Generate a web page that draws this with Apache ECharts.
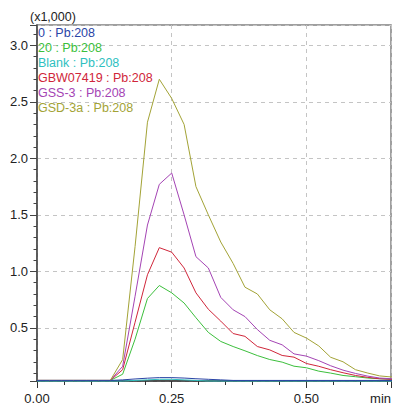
<!DOCTYPE html>
<html>
<head>
<meta charset="utf-8">
<script src="https://cdn.jsdelivr.net/npm/echarts@6/dist/echarts.min.js"></script>
<style>
  html, body { margin: 0; padding: 0; background: #fff; }
  #chart { width: 394px; height: 405px; }
</style>
</head>
<body>
<div id="chart"></div>
<script>
// retention time (min)
const times = [0.000, 0.023, 0.045, 0.068, 0.091, 0.114, 0.136, 0.159, 0.182, 0.205,
  0.227, 0.250, 0.273, 0.295, 0.318, 0.341, 0.364, 0.386, 0.409, 0.432,
  0.455, 0.477, 0.500, 0.523, 0.545, 0.568, 0.591, 0.614, 0.636, 0.659];

// intensity (x1,000)
const s0 = [0.035, 0.035, 0.035, 0.035, 0.035, 0.035, 0.035, 0.04, 0.048, 0.055,
  0.06, 0.06, 0.056, 0.05, 0.045, 0.04, 0.035, 0.035, 0.035, 0.035,
  0.035, 0.035, 0.035, 0.035, 0.035, 0.035, 0.035, 0.035, 0.035, 0.035];
const s20 = [0.035, 0.035, 0.035, 0.035, 0.035, 0.035, 0.035, 0.09, 0.40, 0.76,
  0.875, 0.81, 0.72, 0.59, 0.46, 0.38, 0.335, 0.297, 0.255, 0.22,
  0.197, 0.161, 0.147, 0.117, 0.10, 0.079, 0.068, 0.056, 0.05, 0.045];
const sBlank = [0.03, 0.03, 0.03, 0.03, 0.03, 0.03, 0.03, 0.03, 0.035, 0.04,
  0.045, 0.045, 0.04, 0.035, 0.03, 0.03, 0.03, 0.03, 0.03, 0.03,
  0.03, 0.03, 0.03, 0.03, 0.03, 0.03, 0.03, 0.03, 0.03, 0.03];
const sGBW = [0.035, 0.035, 0.035, 0.035, 0.035, 0.035, 0.035, 0.13, 0.55, 0.97,
  1.21, 1.17, 1.03, 0.81, 0.665, 0.56, 0.45, 0.425, 0.335, 0.305,
  0.256, 0.241, 0.185, 0.16, 0.13, 0.103, 0.079, 0.062, 0.05, 0.045];
const sGSS = [0.035, 0.035, 0.035, 0.035, 0.035, 0.035, 0.035, 0.16, 0.78, 1.41,
  1.77, 1.87, 1.50, 1.13, 1.03, 0.77, 0.66, 0.60, 0.485, 0.39,
  0.35, 0.27, 0.25, 0.21, 0.165, 0.126, 0.097, 0.073, 0.056, 0.05];
const sGSD = [0.035, 0.035, 0.035, 0.035, 0.035, 0.035, 0.035, 0.22, 1.22, 2.32,
  2.70, 2.53, 2.30, 1.75, 1.50, 1.26, 1.07, 0.86, 0.80, 0.66,
  0.58, 0.46, 0.41, 0.34, 0.24, 0.20, 0.13, 0.10, 0.075, 0.065];

const names = ["0 : Pb:208", "20 : Pb:208", "Blank : Pb:208", "GBW07419 : Pb:208", "GSS-3 : Pb:208", "GSD-3a : Pb:208"];
const values = [s0, s20, sBlank, sGBW, sGSS, sGSD];
const colors = ["#2a44a6", "#3cbf3c", "#2fbfbf", "#d0263a", "#a444b4", "#a3a336"];

const font = "'Liberation Sans', Arial, sans-serif";

const chart = echarts.init(document.getElementById("chart"), null, { renderer: "svg" });
chart.setOption({
  animation: false,
  textStyle: { fontFamily: font },
  grid: {
    left: 37, right: 1, top: 25, bottom: 24,
    show: true, borderColor: "#808080", borderWidth: 1.5,
  },
  graphic: [{
    type: "text", left: 30, top: 10,
    style: { text: "(x1,000)", fontSize: 12.5, fontFamily: font, fill: "#222" },
  }],
  legend: {
    orient: "vertical",
    left: 33, top: 25, padding: 0,
    itemWidth: 0, itemHeight: 0, itemGap: 0,
    icon: "rect",
    selectedMode: false,
    data: names.map((n, i) => ({ name: n, textStyle: { color: colors[i], fontSize: 12.5, lineHeight: 15, fontFamily: font } })),
  },
  xAxis: {
    type: "value",
    min: 0, max: 0.657, interval: 0.25,
    axisLine: { onZero: false, lineStyle: { color: "#333", width: 1.5 } },
    axisTick: { length: 7, lineStyle: { color: "#333" } },
    minorTick: { show: true, splitNumber: 5, length: 4, lineStyle: { color: "#333" } },
    axisLabel: {
      color: "#222", fontSize: 13, margin: 11,
      showMaxLabel: true, alignMaxLabel: "right",
      formatter: (v) => (v > 0.6 ? "min" : v.toFixed(2)),
    },
    splitLine: { show: true, lineStyle: { color: "#c4c4c4", type: [4, 4] } },
  },
  yAxis: {
    type: "value",
    min: 0.03, max: 3.18, splitNumber: 6,
    axisLine: { show: true, lineStyle: { color: "#444", width: 1.5 } },
    axisTick: { length: 7, lineStyle: { color: "#444" } },
    minorTick: { show: true, splitNumber: 5, length: 3.5, lineStyle: { color: "#444" } },
    axisLabel: {
      color: "#222", fontSize: 13, margin: 9,
      showMinLabel: false, showMaxLabel: false,
      formatter: (v) => v.toFixed(1),
    },
    splitLine: { show: true, lineStyle: { color: "#c4c4c4", type: [4, 4] } },
  },
  series: names.map((n, i) => ({
    name: n,
    type: "line",
    data: times.map((t, j) => [t, values[i][j]]),
    symbol: "none",
    clip: false,
    z: i === 0 ? 10 : 3 + i,
    lineStyle: { color: colors[i], width: 1 },
    itemStyle: { color: colors[i] },
  })),
});
</script>
</body>
</html>
